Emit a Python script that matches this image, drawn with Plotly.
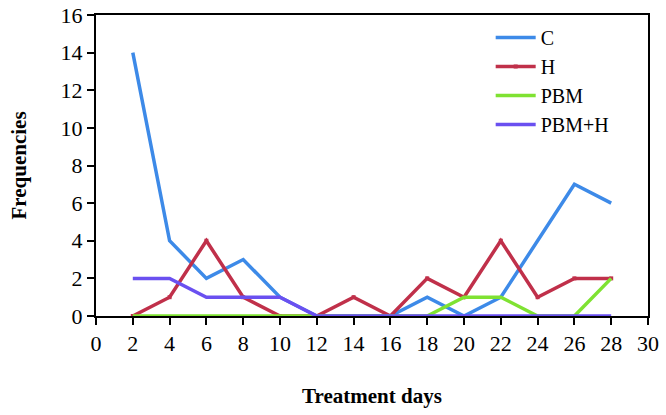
import plotly.graph_objects as go

days = [2, 4, 6, 8, 10, 12, 14, 16, 18, 20, 22, 24, 26, 28]
c_vals = [14, 4, 2, 3, 1, 0, 0, 0, 1, 0, 1, 4, 7, 6]
h_vals = [0, 1, 4, 1, 0, 0, 1, 0, 2, 1, 4, 1, 2, 2]
pbm_vals = [0, 0, 0, 0, 0, 0, 0, 0, 0, 1, 1, 0, 0, 2]
pbmh_vals = [2, 2, 1, 1, 1, 0, 0, 0, 0, 0, 0, 0, 0, 0]
series_names = ["C", "H", "PBM", "PBM+H"]
x_ticks = list(range(0, 31, 2))
y_ticks = list(range(0, 17, 2))

colors = ["#3d8ae8", "#c0304a", "#7fe232", "#6a50f0"]
FONT = "Liberation Serif"

fig = go.Figure()
for name, vals, col in zip(series_names, [c_vals, h_vals, pbm_vals, pbmh_vals], colors):
    fig.add_trace(go.Scatter(
        x=days, y=vals, name=name, mode="lines+markers" if name == "H" else "lines",
        line=dict(color=col, width=3.5),
        marker=dict(symbol="square", size=4, color=col),
        cliponaxis=False,
    ))

fig.update_layout(
    width=666, height=415,
    margin=dict(l=96, r=18, t=15, b=99),
    paper_bgcolor="white", plot_bgcolor="white",
    font=dict(family=FONT, size=22, color="black"),
    showlegend=True,
    legend=dict(x=0.715, y=0.99, xanchor="left", yanchor="top",
                bgcolor="rgba(0,0,0,0)", font=dict(size=20, family=FONT),
                itemwidth=40, tracegroupgap=0),
)
fig.update_xaxes(
    range=[0, 30], tickvals=x_ticks, ticktext=[str(v) for v in x_ticks],
    showgrid=False, zeroline=False, showline=True, linecolor="black", linewidth=2,
    mirror=True, ticks="outside", ticklen=7, tickwidth=1.5, tickcolor="black",
    tickfont=dict(size=22, family=FONT), automargin=False, ticklabeloverflow="allow",
    title=dict(text="<b>Treatment days</b>", font=dict(size=21, family=FONT), standoff=33),
)
fig.update_yaxes(
    range=[0, 16], tickvals=y_ticks, ticktext=[str(v) for v in y_ticks],
    showgrid=False, zeroline=False, showline=True, linecolor="black", linewidth=2,
    mirror=True, ticks="outside", ticklen=7, tickwidth=1.5, tickcolor="black",
    tickfont=dict(size=22, family=FONT), automargin=False, ticklabeloverflow="allow",
    title=dict(text="<b>Frequencies</b>", font=dict(size=21, family=FONT), standoff=28),
)
fig.write_html("out.html", config={"displayModeBar": False},
               post_script="document.body.style.margin='0';document.body.style.overflow='hidden';")
